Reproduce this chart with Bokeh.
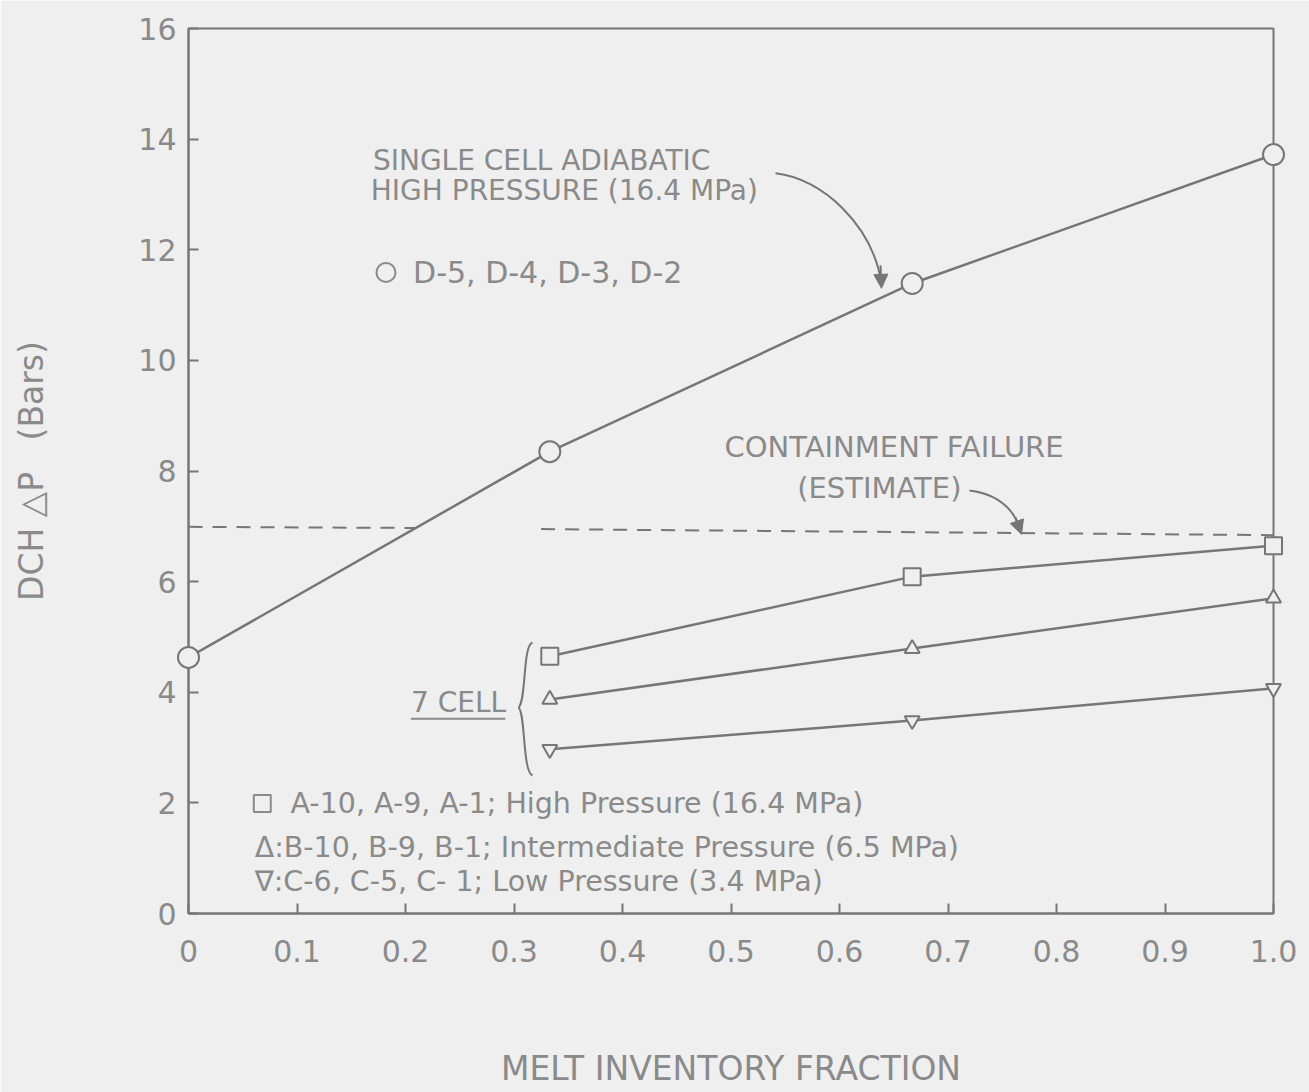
from bokeh.plotting import figure
from bokeh.models import Range1d, FixedTicker, Label, Arrow, NormalHead
from bokeh.embed import file_html
from bokeh.resources import INLINE

# DCH pressure rise (bar) versus melt inventory fraction
single_x = [0.0, 0.333, 0.667, 1.0]
single_dp = [4.63, 8.35, 11.39, 13.72]      # D-5, D-4, D-3, D-2

cell7_x = [0.333, 0.667, 1.0]
high_dp = [4.65, 6.09, 6.65]                # A-10, A-9, A-1
inter_dp = [3.87, 4.79, 5.70]               # B-10, B-9, B-1
low_dp = [2.97, 3.49, 4.07]                 # C-6, C-5, C-1

# estimated containment failure level (dashed, broken where it meets the curve)
fail_x = [[0.0, 0.21], [0.325, 1.0]]
fail_dp = [[6.99, 6.97], [6.95, 6.84]]

x_ticks = [0.0, 0.1, 0.2, 0.3, 0.4, 0.5, 0.6, 0.7, 0.8, 0.9, 1.0]
x_tick_labels = ["0", "0.1", "0.2", "0.3", "0.4", "0.5", "0.6", "0.7", "0.8", "0.9", "1.0"]
y_ticks = [0, 2, 4, 6, 8, 10, 12, 14, 16]
y_tick_labels = ["0", "2", "4", "6", "8", "10", "12", "14", "16"]

BG = "#efefef"
INK = "#767676"
TXT = "#8a8a8a"
FONT = "DejaVu Sans"

p = figure(width=1309, height=1092, output_backend="svg", toolbar_location=None,
           x_range=Range1d(0, 1), y_range=Range1d(0, 16),
           min_border_left=188, min_border_right=36, min_border_top=28, min_border_bottom=179)
p.background_fill_color = BG
p.border_fill_color = BG
p.outline_line_color = INK
p.outline_line_width = 2
p.grid.visible = False

p.xaxis.ticker = FixedTicker(ticks=x_ticks)
p.xaxis.major_label_overrides = {t: s for t, s in zip(x_ticks, x_tick_labels)}
p.yaxis.ticker = FixedTicker(ticks=y_ticks)
p.yaxis.major_label_overrides = {t: s for t, s in zip(y_ticks, y_tick_labels)}

for ax in (p.xaxis[0], p.yaxis[0]):
    ax.axis_line_color = INK
    ax.axis_line_width = 2
    ax.major_tick_in = 10
    ax.major_tick_out = 0
    ax.major_tick_line_color = INK
    ax.major_tick_line_width = 2
    ax.minor_tick_line_color = None
    ax.major_label_text_font = FONT
    ax.major_label_text_font_size = "30px"
    ax.major_label_text_color = TXT
    ax.axis_label_text_font = FONT
    ax.axis_label_text_font_size = "33px"
    ax.axis_label_text_font_style = "normal"
    ax.axis_label_text_color = TXT

p.xaxis.axis_label = "MELT INVENTORY FRACTION"
p.xaxis.major_label_standoff = 26
p.xaxis.axis_label_standoff = 84
p.yaxis.axis_label = "DCH\u00a0\u25B3P\u00a0\u00a0\u00a0(Bars)"
p.yaxis.major_label_standoff = 12
p.yaxis.axis_label_standoff = 84

# curves
p.line(single_x, single_dp, line_color=INK, line_width=2.5)
p.line(cell7_x, high_dp, line_color=INK, line_width=2.5)
p.line(cell7_x, inter_dp, line_color=INK, line_width=2.5)
p.line(cell7_x, low_dp, line_color=INK, line_width=2.5)
p.multi_line(fail_x, fail_dp, line_color=INK, line_width=2, line_dash="14 10")

mk = dict(fill_color=BG, line_color=INK, line_width=2, level="overlay")
p.scatter(single_x, single_dp, marker="circle", size=21, **mk)
p.scatter(cell7_x, high_dp, marker="square", size=17, **mk)
p.scatter(cell7_x, inter_dp, marker="triangle", size=15, **mk)
p.scatter(cell7_x, low_dp, marker="inverted_triangle", size=15, **mk)


def note(x, y, text, size="25px"):
    p.add_layout(Label(x=x, y=y, text=text, text_font=FONT, text_font_size=size,
                       text_color=TXT, text_align="left", text_baseline="middle"))


note(0.170, 13.62, "SINGLE CELL ADIABATIC", "28px")
note(0.168, 13.08, "HIGH PRESSURE (16.4 MPa)", "28px")
note(0.207, 11.59, "D-5, D-4, D-3, D-2", "30px")
p.scatter([0.182], [11.59], marker="circle", size=19, fill_color=BG, line_color=TXT, line_width=2)

note(0.494, 8.43, "CONTAINMENT FAILURE", "29px")
note(0.561, 7.69, "(ESTIMATE)", "29px")

note(0.205, 3.82, "7 CELL", "28px")
p.segment(x0=[0.205], y0=[3.52], x1=[0.292], y1=[3.52], line_color=TXT, line_width=2)

# brace grouping the 7 cell curves
bx = lambda px: (px - 188) / 1085
by = lambda py: (913 - py) / 55.3
p.bezier(x0=[bx(532), bx(518)], y0=[by(642), by(707)],
         x1=[bx(518), bx(532)], y1=[by(707), by(775)],
         cx0=[bx(522), bx(525)], cy0=[by(645), by(712)],
         cx1=[bx(526), bx(522)], cy1=[by(700), by(772)],
         line_color=INK, line_width=2)

note(0.094, 1.99, "A-10, A-9, A-1; High Pressure (16.4 MPa)", "28.5px")
p.scatter([0.068], [1.99], marker="square", size=17, fill_color=BG, line_color=TXT, line_width=2)
note(0.061, 1.19, "\u0394:B-10, B-9, B-1; Intermediate Pressure (6.5 MPa)", "28.5px")
note(0.061, 0.58, "\u2207:C-6, C-5, C- 1; Low Pressure (3.4 MPa)", "28.5px")

# pointer arrows to the curves
p.bezier(x0=[bx(775), bx(969)], y0=[by(173), by(490)],
         x1=[bx(881), bx(1020)], y1=[by(283), by(530)],
         cx0=[bx(822), bx(1000)], cy0=[by(178), by(494)],
         cx1=[bx(872), bx(1014)], cy1=[by(225), by(510)],
         line_color=INK, line_width=2)
head = dict(line_color=INK, line_width=2,
            end=NormalHead(size=14, fill_color=INK, line_color=INK))
p.add_layout(Arrow(x_start=bx(880), y_start=by(265), x_end=bx(881), y_end=by(288), **head))
p.add_layout(Arrow(x_start=bx(1015), y_start=by(517), x_end=bx(1021), y_end=by(534), **head))

open("out.html", "w").write(file_html(p, INLINE))
